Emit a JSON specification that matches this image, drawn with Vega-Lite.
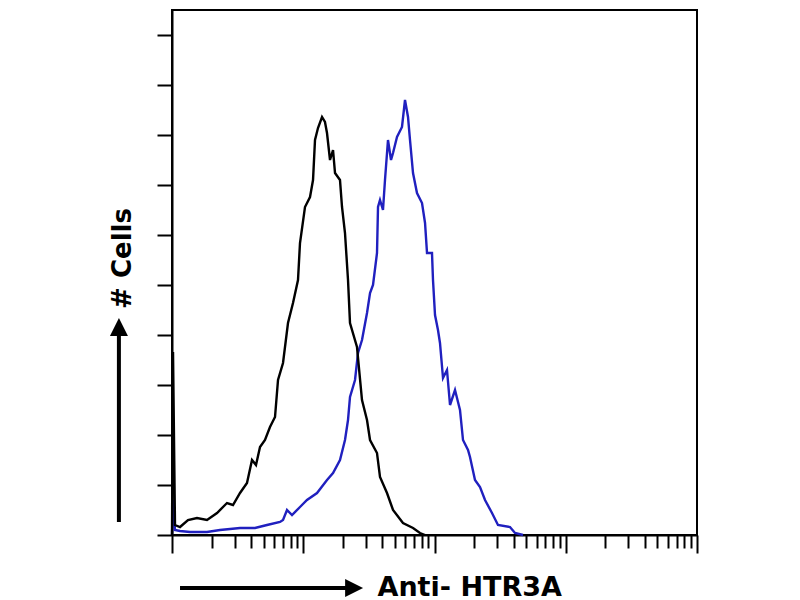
{
  "$schema": "https://vega.github.io/schema/vega-lite/v6.json",
  "autosize": {"type": "none"},
  "padding": {"left": 172, "top": 10, "right": 103, "bottom": 65},
  "width": 525,
  "height": 525,
  "background": "white",
  "config": {
    "view": {"stroke": "black", "strokeWidth": 2},
    "axis": {"grid": false, "labels": false, "domainColor": "black", "domainWidth": 2, "tickColor": "black", "tickWidth": 2, "titleColor": "black", "titleFont": "DejaVu Sans", "titleFontWeight": "bold"}
  },
  "datasets": {
    "hist": [
      {"sample": "HTR3A", "x": 1, "count": 0},
      {"sample": "HTR3A", "x": 1.018, "count": 14},
      {"sample": "HTR3A", "x": 1.054, "count": 2},
      {"sample": "HTR3A", "x": 1.151, "count": 1.6},
      {"sample": "HTR3A", "x": 1.371, "count": 1.2},
      {"sample": "HTR3A", "x": 1.848, "count": 1.2},
      {"sample": "HTR3A", "x": 2.321, "count": 2},
      {"sample": "HTR3A", "x": 3.298, "count": 2.8},
      {"sample": "HTR3A", "x": 4.289, "count": 2.8},
      {"sample": "HTR3A", "x": 5.294, "count": 4},
      {"sample": "HTR3A", "x": 6.651, "count": 5.2},
      {"sample": "HTR3A", "x": 7.012, "count": 6},
      {"sample": "HTR3A", "x": 7.52, "count": 10},
      {"sample": "HTR3A", "x": 8.21, "count": 8},
      {"sample": "HTR3A", "x": 9.445, "count": 11.2},
      {"sample": "HTR3A", "x": 10.68, "count": 14},
      {"sample": "HTR3A", "x": 12.73, "count": 16.8},
      {"sample": "HTR3A", "x": 15.17, "count": 22},
      {"sample": "HTR3A", "x": 16.86, "count": 24.8},
      {"sample": "HTR3A", "x": 19.05, "count": 30},
      {"sample": "HTR3A", "x": 20.8, "count": 38},
      {"sample": "HTR3A", "x": 21.93, "count": 46},
      {"sample": "HTR3A", "x": 22.71, "count": 55.2},
      {"sample": "HTR3A", "x": 24.8, "count": 62},
      {"sample": "HTR3A", "x": 26.13, "count": 72.8},
      {"sample": "HTR3A", "x": 28.03, "count": 78},
      {"sample": "HTR3A", "x": 30.6, "count": 88.8},
      {"sample": "HTR3A", "x": 32.27, "count": 96.8},
      {"sample": "HTR3A", "x": 34, "count": 100},
      {"sample": "HTR3A", "x": 36.47, "count": 112.8},
      {"sample": "HTR3A", "x": 37.12, "count": 131.2},
      {"sample": "HTR3A", "x": 38.44, "count": 134},
      {"sample": "HTR3A", "x": 40.51, "count": 130},
      {"sample": "HTR3A", "x": 41.96, "count": 142},
      {"sample": "HTR3A", "x": 44.23, "count": 158},
      {"sample": "HTR3A", "x": 46.63, "count": 150},
      {"sample": "HTR3A", "x": 48.3, "count": 152.8},
      {"sample": "HTR3A", "x": 51.8, "count": 159.2},
      {"sample": "HTR3A", "x": 56.54, "count": 163.2},
      {"sample": "HTR3A", "x": 59.6, "count": 174},
      {"sample": "HTR3A", "x": 62.83, "count": 167.2},
      {"sample": "HTR3A", "x": 65.07, "count": 158},
      {"sample": "HTR3A", "x": 68.6, "count": 144.8},
      {"sample": "HTR3A", "x": 73.56, "count": 136.8},
      {"sample": "HTR3A", "x": 80.33, "count": 132.8},
      {"sample": "HTR3A", "x": 84.7, "count": 124.8},
      {"sample": "HTR3A", "x": 87.7, "count": 112.8},
      {"sample": "HTR3A", "x": 95.7, "count": 112.8},
      {"sample": "HTR3A", "x": 97.4, "count": 102},
      {"sample": "HTR3A", "x": 100.9, "count": 88},
      {"sample": "HTR3A", "x": 106.3, "count": 82},
      {"sample": "HTR3A", "x": 110.1, "count": 76.8},
      {"sample": "HTR3A", "x": 116.1, "count": 62.8},
      {"sample": "HTR3A", "x": 124.5, "count": 66},
      {"sample": "HTR3A", "x": 131.3, "count": 52},
      {"sample": "HTR3A", "x": 143.3, "count": 58},
      {"sample": "HTR3A", "x": 156.4, "count": 50},
      {"sample": "HTR3A", "x": 164.9, "count": 38},
      {"sample": "HTR3A", "x": 180, "count": 34},
      {"sample": "HTR3A", "x": 186.4, "count": 31.2},
      {"sample": "HTR3A", "x": 203.5, "count": 22},
      {"sample": "HTR3A", "x": 222.2, "count": 19.2},
      {"sample": "HTR3A", "x": 242.6, "count": 14},
      {"sample": "HTR3A", "x": 274.2, "count": 8.8},
      {"sample": "HTR3A", "x": 304.6, "count": 4},
      {"sample": "HTR3A", "x": 376, "count": 3.2},
      {"sample": "HTR3A", "x": 410.5, "count": 0.8},
      {"sample": "HTR3A", "x": 472.4, "count": 0},
      {"sample": "Control", "x": 1, "count": 0},
      {"sample": "Control", "x": 1.018, "count": 73.2},
      {"sample": "Control", "x": 1.054, "count": 4},
      {"sample": "Control", "x": 1.151, "count": 3.2},
      {"sample": "Control", "x": 1.324, "count": 6},
      {"sample": "Control", "x": 1.55, "count": 6.8},
      {"sample": "Control", "x": 1.848, "count": 6},
      {"sample": "Control", "x": 2.203, "count": 8.8},
      {"sample": "Control", "x": 2.624, "count": 12.8},
      {"sample": "Control", "x": 2.916, "count": 12},
      {"sample": "Control", "x": 3.298, "count": 16.8},
      {"sample": "Control", "x": 3.727, "count": 20.8},
      {"sample": "Control", "x": 4.07, "count": 30},
      {"sample": "Control", "x": 4.365, "count": 28},
      {"sample": "Control", "x": 4.683, "count": 35.2},
      {"sample": "Control", "x": 5.111, "count": 38},
      {"sample": "Control", "x": 5.58, "count": 43.2},
      {"sample": "Control", "x": 6.093, "count": 47.2},
      {"sample": "Control", "x": 6.423, "count": 62},
      {"sample": "Control", "x": 7.012, "count": 68.8},
      {"sample": "Control", "x": 7.652, "count": 84.8},
      {"sample": "Control", "x": 8.354, "count": 92.8},
      {"sample": "Control", "x": 9.12, "count": 102},
      {"sample": "Control", "x": 9.445, "count": 116.8},
      {"sample": "Control", "x": 10.31, "count": 131.2},
      {"sample": "Control", "x": 11.26, "count": 135.2},
      {"sample": "Control", "x": 11.87, "count": 142},
      {"sample": "Control", "x": 12.29, "count": 158},
      {"sample": "Control", "x": 12.95, "count": 162.8},
      {"sample": "Control", "x": 13.9, "count": 167.2},
      {"sample": "Control", "x": 14.64, "count": 165.2},
      {"sample": "Control", "x": 15.17, "count": 160.8},
      {"sample": "Control", "x": 15.99, "count": 150},
      {"sample": "Control", "x": 16.86, "count": 154},
      {"sample": "Control", "x": 17.46, "count": 144.8},
      {"sample": "Control", "x": 19.05, "count": 142},
      {"sample": "Control", "x": 19.74, "count": 131.2},
      {"sample": "Control", "x": 20.8, "count": 120.8},
      {"sample": "Control", "x": 21.93, "count": 102},
      {"sample": "Control", "x": 22.71, "count": 84.8},
      {"sample": "Control", "x": 25.67, "count": 75.2},
      {"sample": "Control", "x": 28.03, "count": 54},
      {"sample": "Control", "x": 30.6, "count": 46},
      {"sample": "Control", "x": 32.27, "count": 38},
      {"sample": "Control", "x": 36.47, "count": 32.8},
      {"sample": "Control", "x": 38.44, "count": 23.2},
      {"sample": "Control", "x": 43.46, "count": 16.8},
      {"sample": "Control", "x": 48.3, "count": 10},
      {"sample": "Control", "x": 57.54, "count": 4.8},
      {"sample": "Control", "x": 68.6, "count": 2.8},
      {"sample": "Control", "x": 77.5, "count": 0.8},
      {"sample": "Control", "x": 84.7, "count": 0}
    ],
    "arrows": [
      {"x": 1.151, "x2": 21.5, "count": -21.2, "count2": -21.2},
      {"x": 0.394, "x2": 0.394, "count": 5.2, "count2": 80.5}
    ],
    "heads": [
      {"x": 24.4, "count": -21.2, "dir": "right"},
      {"x": 0.394, "count": 83.2, "dir": "up"}
    ]
  },
  "layer": [
    {
      "data": {"name": "hist"},
      "mark": {"type": "line", "strokeWidth": 2.4, "clip": false},
      "encoding": {
        "x": {
          "field": "x",
          "type": "quantitative",
          "scale": {"type": "log", "domain": [1, 10000], "nice": false},
          "axis": {
            "values": [1, 2, 3, 4, 5, 6, 7, 8, 9, 10, 20, 30, 40, 50, 60, 70, 80, 90, 100, 200, 300, 400, 500, 600, 700, 800, 900, 1000, 2000, 3000, 4000, 5000, 6000, 7000, 8000, 9000, 10000],
            "tickSize": {"condition": {"test": "indexof([1, 10, 100, 1000, 10000], datum.value) >= 0", "value": 18}, "value": 13},
            "title": "Anti- HTR3A",
            "titleFontSize": 27,
            "titleAlign": "left",
            "titleBaseline": "alphabetic",
            "titleAngle": 0,
            "titleX": 205,
            "titleY": 60
          }
        },
        "y": {
          "field": "count",
          "type": "quantitative",
          "scale": {"domain": [0, 210], "nice": false},
          "axis": {
            "values": [0, 20, 40, 60, 80, 100, 120, 140, 160, 180, 200],
            "tickSize": 15,
            "title": "# Cells",
            "titleFontSize": 26,
            "titleAngle": 270,
            "titleAlign": "center",
            "titleBaseline": "middle",
            "titleX": -50,
            "titleY": 248
          }
        },
        "color": {
          "field": "sample",
          "type": "nominal",
          "sort": ["HTR3A", "Control"],
          "scale": {"domain": ["HTR3A", "Control"], "range": ["#2020bf", "#000000"]},
          "legend": null
        },
        "order": {"field": "x", "type": "quantitative"}
      }
    },
    {
      "data": {"name": "arrows"},
      "mark": {"type": "rule", "color": "black", "strokeWidth": 4, "clip": false},
      "encoding": {
        "x": {"field": "x", "type": "quantitative"},
        "x2": {"field": "x2"},
        "y": {"field": "count", "type": "quantitative"},
        "y2": {"field": "count2"}
      }
    },
    {
      "data": {"name": "heads"},
      "mark": {"type": "point", "filled": true, "color": "black", "opacity": 1, "size": 324, "clip": false},
      "encoding": {
        "x": {"field": "x", "type": "quantitative"},
        "y": {"field": "count", "type": "quantitative"},
        "shape": {
          "field": "dir",
          "type": "nominal",
          "scale": {"domain": ["right", "up"], "range": ["M -1 -1 L 1 0 L -1 1 Z", "M -1 1 L 0 -1 L 1 1 Z"]},
          "legend": null
        }
      }
    }
  ]
}
